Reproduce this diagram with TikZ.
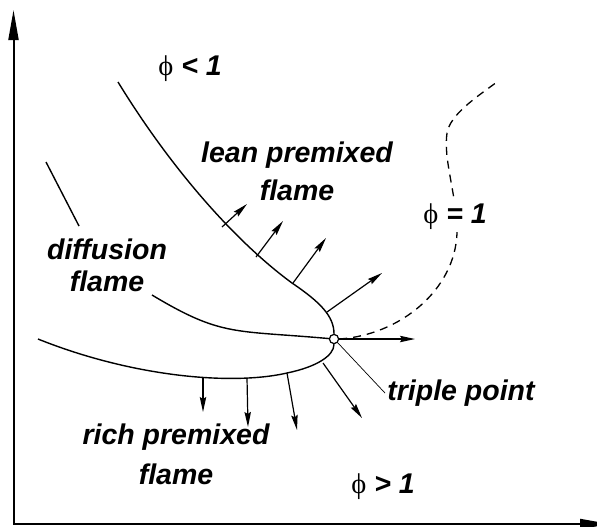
\documentclass[tikz,border=0pt]{standalone}
\usepackage{fontspec}
\setmainfont{Liberation Sans}
\newfontfamily\phifont{Liberation Serif}
\usetikzlibrary{arrows.meta}
\newcommand\lblfont[1]{\fontsize{14.25}{#1}\selectfont\bfseries\itshape}
\newcommand\phisym{{\phifont\mdseries\upshape ϕ}}

\begin{document}
\begin{tikzpicture}[x=0.5pt, y=-0.5pt,
  lbl/.style={font=\lblfont{19}, align=center, inner sep=1pt},
  front/.style={line width=0.7pt},
  border/.style={line width=0.65pt, dash pattern=on 4pt off 3pt},
  a/.style={-{Stealth[length=7.5pt, width=3.2pt, inset=1pt]}, line width=0.6pt},
  lead/.style={line width=0.35pt},
  ax/.style={{Triangle[length=15pt, width=5pt]}-{Triangle[length=15pt, width=5pt]}, line width=1pt}]
  \useasboundingbox (0,0) rectangle (597,526);

  % axes
  \coordinate (ytip) at (13.5,10);
  \coordinate (o) at (13.5,524);
  \coordinate (xtip) at (610,524);
  \draw[ax] (ytip) -- (o) -- (xtip);

  % triple point
  \node[circle, draw, line width=0.6pt, minimum size=4.6pt, inner sep=0pt] (tp) at (334,339) {};

  % flame fronts
  \draw[front] (118,82) .. controls (175,175) and (240,245) .. (292,283)
    .. controls (320,302) and (334,316) .. (tp.north);
  \draw[front] (tp.south) .. controls (334,356) and (316,367) .. (287,373)
    .. controls (230,386) and (130,376) .. (38,339);
  \draw[front] (152,295) .. controls (222,337) and (234,330) .. (tp.175);
  \draw[border] (tp.east) .. controls (400,335) and (455,290) .. (457,233)
    .. controls (457,195) and (443,160) .. (447,133)
    .. controls (450,115) and (475,98) .. (497,82);

  % diffusion flame marker
  \coordinate (d1) at (46,162);
  \coordinate (d2) at (79,226);
  \draw[front] (d1) -- (d2);

  % propagation directions
  \foreach \n/\bx/\by/\tx/\ty in {l1/222/227/247/204, l2/256/257/283/221,
      l3/293/283/326/238, l4/327/312/382/273, r1/203/378/203/412,
      r2/247/378/248/427, r3/287/373/297/430, r4/323/363/362/418} {
    \coordinate (\n) at (\bx,\by);
    \coordinate (\n t) at (\tx,\ty);
    \draw[a] (\n) -- (\n t);
  }
  \coordinate (hx) at (415,339);
  \draw[a] (tp.east) -- (hx);

  % labels
  \node[lbl] (philess) at (190,69) {\phisym\ < 1};
  \node[lbl, fill=white] (phieq) at (455,217) {\phisym\ = 1};
  \node[lbl] (phimore) at (383,487) {\phisym\ > 1};
  \node[lbl] (lean) at (297,171) {lean premixed\\flame};
  \node[lbl, font=\lblfont{16}] (diff) at (107,265) {diffusion\\flame};
  \node[lbl, font=\lblfont{20}] (rich) at (176,454) {rich premixed\\flame};
  \node[lbl] (tpl) at (461,393) {triple point};
  \draw[lead] (tp.-45) -- (tpl.west);
\end{tikzpicture}
\end{document}
